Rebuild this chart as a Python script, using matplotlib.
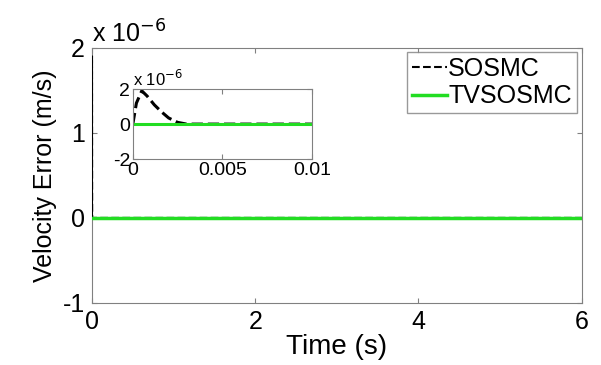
import matplotlib
matplotlib.use('Agg')
import matplotlib.pyplot as plt
from matplotlib.ticker import FuncFormatter

plt.rcParams['font.family'] = ['Liberation Sans', 'DejaVu Sans']

# SOSMC velocity error (m/s)
t_sosmc = [0, 0.0002, 0.0005, 0.0008, 0.0012, 0.0016, 0.002, 0.0025, 0.003, 0.01, 0.8, 6]
e_sosmc = [0, 1.2e-6, 1.9e-6, 1.6e-6, 1.1e-6, 0.7e-6, 0.35e-6, 0.1e-6, 0, 0, 0, 0]
# TVSOSMC velocity error (m/s)
t_tv = [0, 0.01, 6]
e_tv = [0, 0, 0]

main_xticks = [0, 2, 4, 6]
main_yticks = [-1e-6, 0, 1e-6, 2e-6]
inset_xticks = [0, 0.005, 0.01]
inset_xlabels = ['0', '0.005', '0.01']
inset_yticks = [-2e-6, 0, 2e-6]

sci = FuncFormatter(lambda v, p: '%g' % round(v / 1e-6, 6))
frame = '#808080'
green = '#22dd22'

fig = plt.figure(figsize=(6.01, 3.65), dpi=100)
ax = fig.add_axes([0.153, 0.170, 0.815, 0.699])
ax.plot(t_sosmc, e_sosmc, 'k--', lw=1.5, label='SOSMC', zorder=3)
ax.plot(t_tv, e_tv, color=green, lw=2.5, label='TVSOSMC', zorder=3.5)
ax.set_xlim(0, 6)
ax.set_ylim(-1e-6, 2e-6)
ax.set_xticks(main_xticks)
ax.set_yticks(main_yticks)
ax.yaxis.set_major_formatter(sci)
ax.tick_params(direction='in', top=True, right=True, labelsize=18, color=frame, pad=5)
for s in ax.spines.values():
    s.set_color(frame)
ax.set_xlabel('Time (s)', fontsize=20, labelpad=0)
ax.set_ylabel('Velocity Error (m/s)', fontsize=18, labelpad=4)
ax.text(0.0, 1.0, 'x 10$^{-6}$', transform=ax.transAxes, fontsize=18, va='bottom', ha='left')
leg = ax.legend(loc='upper right', fontsize=18, handlelength=1.4, handletextpad=0.05,
                borderpad=0.2, labelspacing=0.15, fancybox=False, borderaxespad=0,
                bbox_to_anchor=(0.99, 0.985))
leg.get_frame().set_edgecolor(frame)
leg.get_frame().set_linewidth(1.0)

ins = fig.add_axes([0.221, 0.564, 0.298, 0.192])
ins.plot(t_sosmc, e_sosmc, 'k--', lw=2.2)
ins.plot(t_tv, e_tv, color=green, lw=2.2)
ins.set_xlim(0, 0.01)
ins.set_ylim(-2e-6, 2e-6)
ins.set_xticks(inset_xticks)
ins.set_xticklabels(inset_xlabels)
ins.set_yticks(inset_yticks)
ins.yaxis.set_major_formatter(sci)
ins.tick_params(direction='in', top=True, right=True, labelsize=14, color=frame, pad=2)
for s in ins.spines.values():
    s.set_color(frame)
ins.text(0.0, 1.0, 'x 10$^{-6}$', transform=ins.transAxes, fontsize=12, va='bottom', ha='left')

fig.savefig('out.png', dpi=100)
